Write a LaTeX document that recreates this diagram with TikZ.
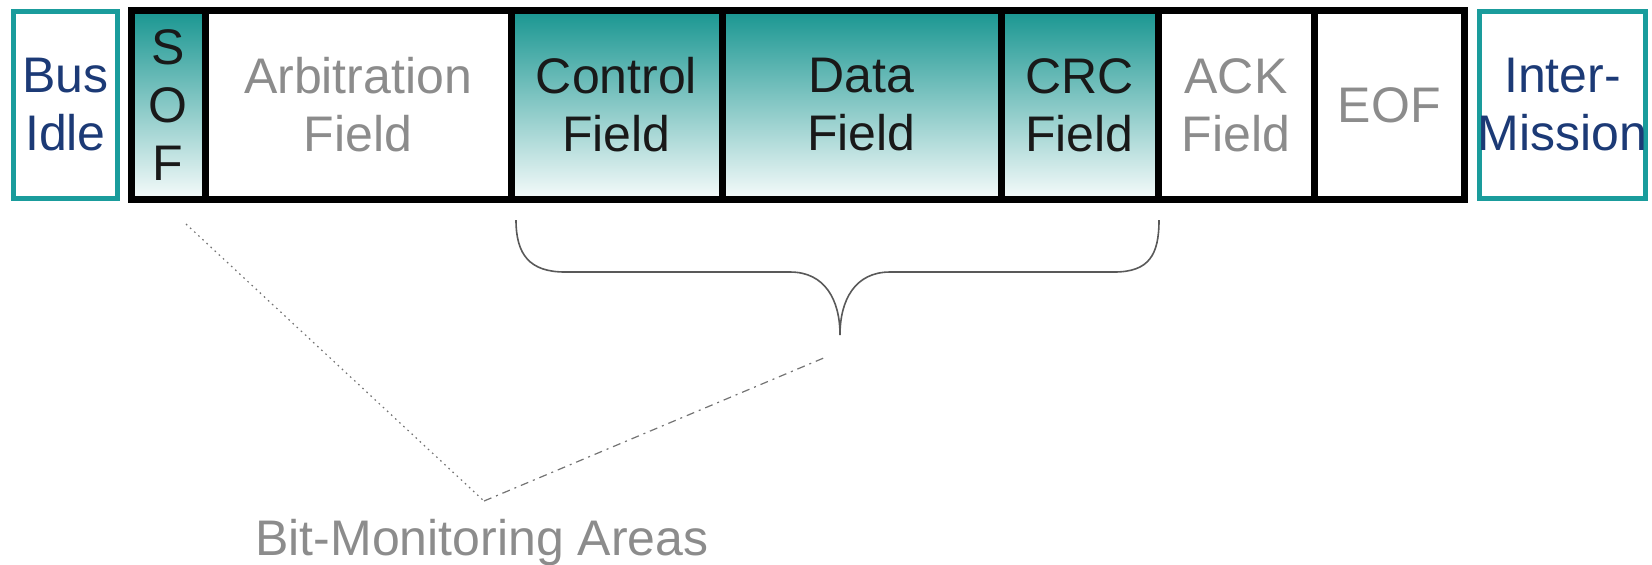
\documentclass[tikz,border=0pt]{standalone}
\usepackage{fontspec}
\setmainfont{Liberation Sans}
\usetikzlibrary{positioning}
\usepackage{xcolor}

\definecolor{fieldteal}{RGB}{25,150,145}
\definecolor{idleteal}{RGB}{26,156,156}
\definecolor{idlenavy}{RGB}{28,58,118}
\definecolor{fieldgray}{RGB}{140,140,140}

\begin{document}
\begin{tikzpicture}[
        x=0.5pt, y=-0.5pt,
        every node/.style={
            font=\fontsize{25}{29}\selectfont,
            align=center,
            inner sep=0pt,
            outer sep=0pt
        },
        field/.style={
            draw=black,
            line width=3.5pt,
            minimum height=94.5pt,
            text=fieldgray
        },
        teal field/.style={
            field,
            top color=fieldteal,
            bottom color=white!96!fieldteal,
            text=black!90
        },
        idle/.style={
            draw=idleteal,
            line width=2.5pt,
            minimum width=52pt,
            minimum height=93.5pt,
            text=idlenavy
        },
        brace line/.style={draw=black!65, line width=0.8pt},
        monitor dots/.style={draw=black!55, line width=0.6pt, dash pattern=on 0.8pt off 2pt},
        monitor dashes/.style={draw=black!55, line width=0.6pt, dash pattern=on 4pt off 2.5pt on 1pt off 2.5pt}
    ]
    \useasboundingbox (0,0) rectangle (1652,564);

    % Frame fields, left to right
    \node[teal field, anchor=west, minimum width=36.75pt] (SOF) at (131.5,105) {S\\O\\F};
    \node[field, right=0pt of SOF, minimum width=153pt] (ARB) {Arbitration\\Field};
    \node[teal field, right=0pt of ARB, minimum width=105.5pt] (CTRL) {Control\\Field};
    \node[teal field, right=0pt of CTRL, minimum width=139.5pt] (DATA) {Data\\Field};
    \node[teal field, right=0pt of DATA, minimum width=78.5pt] (CRC) {CRC\\Field};
    \node[field, right=0pt of CRC, minimum width=78pt] (ACK) {ACK\\Field};
    \node[field, right=0pt of ACK, minimum width=75.25pt] (EOF) {EOF};

    % Bus states on both sides
    \node[idle, left=7pt of SOF] (IDLE) {Bus\\Idle};
    \node[idle, right=7.5pt of EOF, minimum width=83pt, inner xsep=-2pt] (IFS) {Inter-\\Mission};

    % Brace under control, data and CRC
    \draw[brace line] (516,220) .. controls (516,255) and (530,272) .. (565,272)
        -- (790,272) .. controls (825,272) and (840,300) .. (840,335)
        .. controls (840,300) and (855,272) .. (890,272)
        -- (1114,272) .. controls (1149,272) and (1159,255) .. (1159,220);

    % Label and its pointers
    \node[text=fieldgray, anchor=base] (BMA) at (482,555) {Bit-Monitoring Areas};
    \coordinate (SOFmark) at (186,224);
    \coordinate (apex) at (484,501);
    \coordinate (tipmark) at (826,357);
    \draw[monitor dots] (SOFmark) -- (apex);
    \draw[monitor dashes] (apex) -- (tipmark);
\end{tikzpicture}
\end{document}
